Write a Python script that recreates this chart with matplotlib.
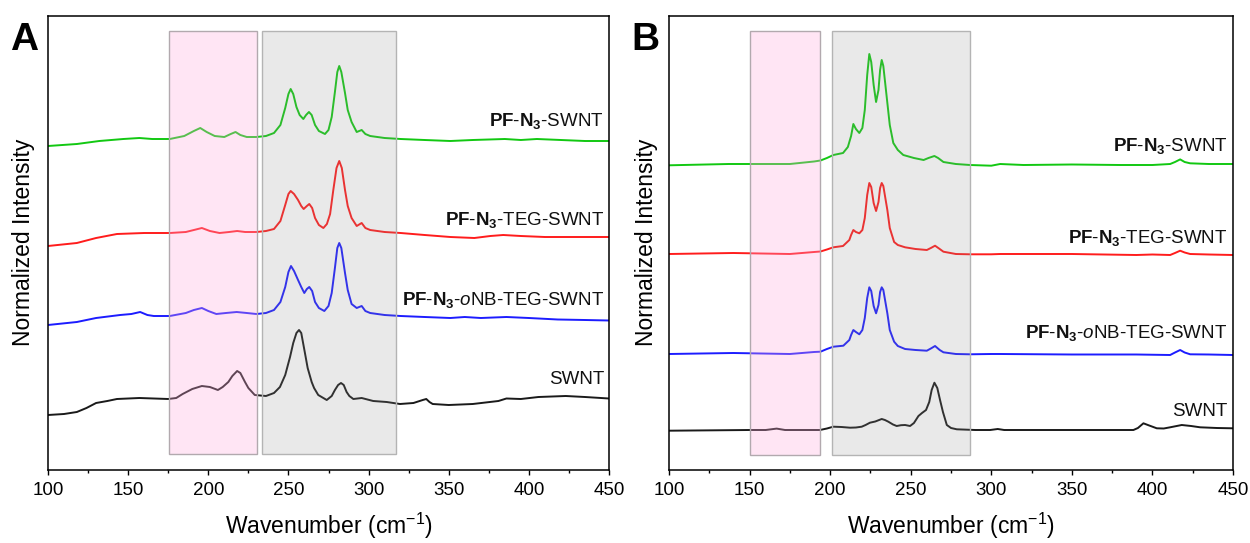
import matplotlib
matplotlib.use("Agg")
import matplotlib.pyplot as plt
from matplotlib.patches import Rectangle
from matplotlib.ticker import MultipleLocator

plt.rcParams['font.family'] = ['Liberation Sans', 'DejaVu Sans']
plt.rcParams['mathtext.fontset'] = 'custom'
plt.rcParams['mathtext.rm'] = 'Liberation Sans'
plt.rcParams['mathtext.bf'] = 'Liberation Sans:bold'
plt.rcParams['mathtext.it'] = 'Liberation Sans:italic'

# ---------------- data (offset, arbitrary intensity units) ----------------
labels = [r'$\mathbf{PF}$-$\mathbf{N_3}$-SWNT',
          r'$\mathbf{PF}$-$\mathbf{N_3}$-TEG-SWNT',
          r'$\mathbf{PF}$-$\mathbf{N_3}$-$\mathit{o}$NB-TEG-SWNT',
          'SWNT']
colors = ['#12c812', '#ff1c1c', '#1c1cff', '#1a1a1a']

# Panel A
a_green_x = [100, 118, 132, 147, 157, 165, 176, 185, 191, 195, 199, 204, 210, 214, 217, 220, 224, 230, 236, 241,
             245, 248, 250, 251.4, 253, 255, 257, 259.3, 261, 262.8, 264.5, 266.6, 269, 272.8, 275, 277, 279, 280.5,
             281.7, 283, 285.3, 287, 289.4, 292.6, 295.7, 298, 301, 310, 320, 335, 351, 365, 385, 395, 405, 420, 435, 450]
a_green_y = [324, 326, 329, 331, 332, 331, 331, 334, 339, 342, 338, 334, 333, 336, 338, 335, 333, 333, 334, 337,
             345, 362, 376, 381, 376, 363, 355, 351, 355, 358, 355, 345, 339, 336, 340, 353, 378, 398,
             404, 398, 377, 360, 348, 338, 340, 336, 334, 332, 331, 330, 329, 330, 331, 330, 331, 330, 329, 329]

a_red_x = [100, 118, 130, 143, 160, 176, 186, 191, 196, 201, 207, 213, 218, 223, 230, 236, 241, 245, 248, 250,
           251.4, 253.5, 256, 258, 259.5, 261.5, 263, 264.8, 266.6, 269, 271.8, 274, 276, 278, 280, 281.7, 283.3,
           285.3, 287, 289.4, 292.6, 295.7, 298, 301, 310, 320, 335, 351, 366, 376, 384, 395, 410, 430, 450]
a_red_y = [224, 227, 232, 236, 237, 237, 238, 240, 242, 239, 237, 238, 239, 238, 238, 239, 241, 249, 265, 276,
           279, 276, 270, 264, 261, 264, 266, 262, 252, 245, 242, 246, 256, 280, 302, 309, 302,
           280, 264, 252, 244, 247, 242, 240, 238, 237, 235, 233, 232, 234, 235, 234, 233, 233, 233]

a_blue_x = [100, 118, 130, 145, 152, 157.5, 162, 166, 176, 186, 191, 196, 200, 205, 211, 217.7, 224, 230, 236, 241,
            245, 248, 250, 251.6, 253.5, 256, 258, 259.9, 261.5, 263, 264.8, 266.6, 269, 272.4, 275, 277, 279,
            280.5, 281.7, 283, 285.3, 287, 289.4, 292.6, 295.7, 298, 301, 310, 320, 335, 351, 360, 370, 386, 400,
            418, 435, 450]
a_blue_y = [145, 148, 152, 155, 156, 158, 155, 154, 154, 157, 160, 162, 159, 156, 157, 158, 157, 156, 157, 160,
            168, 183, 198, 204, 199, 190, 183, 177, 181, 183, 179, 168, 162, 159, 164, 177, 202,
            222, 227, 222, 197, 180, 166, 162, 164, 159, 157, 155, 154, 153, 152, 153, 152, 153, 152,
            150.5, 150, 149.5]

a_black_x = [100, 110, 118, 124, 130, 137, 143, 157, 175, 180, 184, 190, 196, 201, 206, 209, 212.5, 215, 218, 220,
             222.9, 225, 229, 236, 241, 244.7, 248, 251, 253, 255, 256.6, 258, 260.3, 262, 264.5, 266, 268.6,
             273.9, 277, 279, 281, 282.8, 284.5, 286.3, 288, 290.5, 295.7, 302.9, 311.3, 319.6, 328, 333.8, 336,
             338, 340, 350, 365, 381, 386, 395, 406, 423, 435, 450]
a_black_y = [55, 56, 58, 62, 67, 69, 71, 72, 71, 72, 76, 81, 84, 83, 80, 83, 88, 94, 99, 97,
             88, 82, 75, 74, 77, 83, 95, 113, 127, 137, 140, 137, 117, 102, 88, 82, 75,
             70, 74, 80, 85, 87, 85, 78, 74, 71, 72, 69, 68, 66, 67, 70, 71,
             68, 66, 65, 66, 69, 71.5, 71, 73, 74, 73, 71.5]

# Panel B
b_green_x = [100, 137, 175, 190, 194, 198, 202, 208, 211, 213, 214.4, 216, 218.1, 220, 221.5, 223, 224.3, 225.5,
             227, 228.5, 230, 231, 232, 233, 235.1, 237, 239.2, 242, 245.4, 252, 258, 261, 264.7, 267, 270.3,
             278, 286.8, 300, 305.5, 320, 350, 380, 400, 411, 414, 417.2, 420, 423.4, 435, 450]
b_green_y = [304.7, 306, 306, 308.5, 309.5, 312, 315, 317, 323, 334, 346, 341, 337, 342, 360, 395, 416, 408,
             385, 368, 380, 400, 410, 404, 373, 345, 327, 320, 315, 312, 310, 312, 314, 312, 308,
             306, 305, 304.3, 306, 305, 305.5, 305, 305, 306, 308, 310.6, 308, 306.7, 306, 306]

b_red_x = [100, 140, 175, 190, 194, 198, 202, 208, 211.9, 213, 214.4, 216, 218.1, 220, 221.5, 223, 224.3, 225.5,
           227, 228.5, 230, 231, 232, 233, 235.5, 237, 239.7, 242, 246.5, 253, 260, 262.5, 265.1, 268, 270.3,
           278, 286.8, 300, 305.5, 350, 390, 400, 411, 414, 417.2, 420, 423.4, 435, 450]
b_red_y = [216, 217, 216, 218, 218.5, 220.5, 222.7, 224, 230, 235, 240, 238, 236.7, 240, 252, 275, 287, 283,
           267, 259, 268, 282, 287, 284, 260, 242, 228, 225, 222.7, 221, 220, 222, 224.3, 221, 218.3,
           216, 215.7, 215.7, 216, 216, 215, 215.5, 215, 217, 219.3, 217.5, 216, 215.5, 215]

b_blue_x = [100, 140, 175, 190, 194, 198, 202, 208.2, 211.9, 213, 214.4, 216, 218.1, 220, 221.5, 223, 224.3, 225.5,
            227, 228.5, 230, 231, 232, 233, 235.5, 237, 239.7, 242, 246.5, 253, 260, 262.5, 265.1, 268, 270.3,
            278, 286.8, 300, 305.5, 350, 390, 411, 414, 417.2, 420, 423.4, 435, 450]
b_blue_y = [116, 117, 116, 118, 118.3, 121, 123.3, 124.3, 130, 135, 140, 138, 135.7, 140, 152, 172, 182.7, 179,
            164, 156.7, 165, 178, 182.7, 180, 156.7, 140, 128.3, 124, 121, 120, 119.3, 121.5, 124, 120, 117.7,
            116, 115.7, 116, 116, 115.5, 115.5, 115, 117.5, 120, 117.5, 115.7, 115.5, 115]

b_black_x = [100, 150, 160, 166.8, 172, 193.7, 198, 202, 207, 212.4, 216, 219.6, 222, 224.7, 228, 232, 234, 236.1,
             239, 241.3, 244, 246.5, 249.6, 252, 254.8, 257, 259.5, 261.5, 263, 264.7, 266.5, 268.2, 270, 272.4,
             275, 278.6, 290, 299.3, 304, 308, 340, 360, 388.2, 391, 394.4, 398, 402.7, 407, 411, 418.2, 424,
             429.6, 440, 450]
b_black_y = [39.3, 40, 40, 41.4, 40, 40, 41.5, 43.3, 43, 42.3, 42.5, 43.3, 45, 47.3, 48.5, 51, 50, 48.3,
             45.5, 44, 44.8, 45, 44, 47, 54, 57, 60, 68, 80, 87.3, 82, 70, 58, 45,
             42, 40.7, 40, 40, 41, 40, 40, 40, 40, 42, 46.7, 44.5, 41.7, 41.5, 42.7, 45, 44,
             42.7, 42, 41.7]

# highlighted regions (wavenumber ranges)
a_pink_range = (175.8, 230.6)
a_gray_range = (233.8, 317.0)
b_pink_range = (150.0, 194.0)
b_gray_range = (201.2, 287.0)

x_ticks = [100, 150, 200, 250, 300, 350, 400, 450]

panels = {
    'A': dict(series=[(a_green_x, a_green_y), (a_red_x, a_red_y), (a_blue_x, a_blue_y), (a_black_x, a_black_y)],
              pink=a_pink_range, gray=a_gray_range, rect_y=(16, 439),
              label_x=447, label_y=[344.2, 244.8, 165.0, 86.0]),
    'B': dict(series=[(b_green_x, b_green_y), (b_red_x, b_red_y), (b_blue_x, b_blue_y), (b_black_x, b_black_y)],
              pink=b_pink_range, gray=b_gray_range, rect_y=(15, 439.5),
              label_x=446.5, label_y=[319.3, 227.4, 132.2, 54.2]),
}

fig = plt.figure(figsize=(12.5, 5.43), dpi=100)
axes_pos = {'A': [48 / 1250, 73 / 543, 561 / 1250, 454.5 / 543],
            'B': [669 / 1250, 73 / 543, 564 / 1250, 454.5 / 543]}
ylab_x = {'A': -0.023, 'B': -0.019}
letter_x = {'A': 10 / 1250, 'B': 631 / 1250}

for name, p in panels.items():
    ax = fig.add_axes(axes_pos[name])
    for (xs, ys), c in zip(p['series'], colors):
        ax.plot(xs, ys, color=c, lw=1.4, zorder=2, solid_joinstyle='round')
    y0, y1 = p['rect_y']
    ax.add_patch(Rectangle((p['pink'][0], y0), p['pink'][1] - p['pink'][0], y1 - y0,
                           facecolor=(1.0, 0.667, 0.867, 0.30), edgecolor='#b2a9ae', lw=1.0, zorder=3))
    ax.add_patch(Rectangle((p['gray'][0], y0), p['gray'][1] - p['gray'][0], y1 - y0,
                           facecolor=(0.57, 0.57, 0.57, 0.20), edgecolor='#b4b4b4', lw=1.0, zorder=3))
    for lab, ly in zip(labels, p['label_y']):
        ax.text(p['label_x'], ly, lab, ha='right', va='baseline', fontsize=13.5, color='#111111', zorder=4)
    ax.set_xlim(100, 450)
    ax.set_ylim(0, 454.5)
    ax.set_xticks(x_ticks)
    ax.xaxis.set_minor_locator(MultipleLocator(25))
    ax.set_yticks([])
    ax.tick_params(axis='x', which='major', direction='out', length=3.8, width=1.0, labelsize=13.5, pad=4.5)
    ax.tick_params(axis='x', which='minor', direction='out', length=2.2, width=1.0)
    for s in ax.spines.values():
        s.set_linewidth(1.1)
    ax.set_xlabel(r'Wavenumber (cm$^{-1}$)', fontsize=16.5)
    ax.xaxis.set_label_coords(0.5, -0.09)
    ax.set_ylabel('Normalized Intensity', fontsize=16.5)
    ax.yaxis.set_label_coords(ylab_x[name], 0.5)
    fig.text(letter_x[name], 1 - 50 / 543, name, fontsize=28, fontweight='bold', va='baseline', ha='left')

fig.savefig('out.png', dpi=100)
